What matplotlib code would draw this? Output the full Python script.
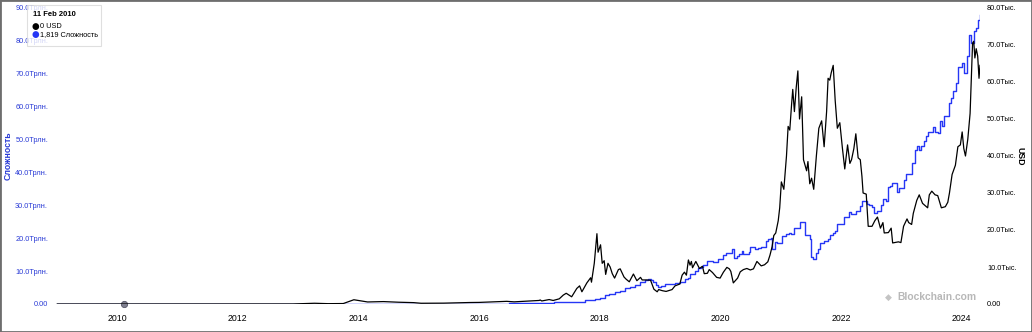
import pandas as pd
import matplotlib
matplotlib.use("Agg")
import matplotlib.pyplot as plt
import matplotlib.dates as mdates
from matplotlib.ticker import FuncFormatter
from matplotlib.patches import Rectangle, FancyBboxPatch

plt.rcParams['font.family'] = ['Liberation Sans', 'DejaVu Sans']

# BTC price, USD
price_dates = [
    "2009-01-03", "2010-07-15", "2011-06-08", "2011-12-01", "2012-06-01", "2012-12-01",
    "2013-04-10", "2013-07-01", "2013-10-01", "2013-12-04", "2014-01-15", "2014-02-25",
    "2014-06-01", "2014-09-01", "2014-12-01", "2015-01-15", "2015-06-01", "2015-11-05",
    "2016-01-01", "2016-06-17", "2016-08-01", "2016-12-31",
    "2017-01-05", "2017-01-15", "2017-03-01", "2017-03-25", "2017-05-01", "2017-05-25",
    "2017-06-12", "2017-07-15", "2017-08-15", "2017-09-01", "2017-09-15", "2017-10-15",
    "2017-11-07", "2017-11-12", "2017-11-29", "2017-12-07", "2017-12-15", "2017-12-22",
    "2018-01-06", "2018-01-16", "2018-01-28", "2018-02-06", "2018-02-20", "2018-03-05",
    "2018-03-18", "2018-04-01", "2018-04-24", "2018-05-05", "2018-05-28", "2018-06-10",
    "2018-06-29", "2018-07-24", "2018-08-14", "2018-09-05", "2018-09-15", "2018-10-15",
    "2018-11-05", "2018-11-25", "2018-12-15", "2018-12-24",
    "2019-01-15", "2019-02-07", "2019-03-15", "2019-04-02", "2019-05-01", "2019-05-15",
    "2019-05-29", "2019-06-10", "2019-06-22", "2019-07-02", "2019-07-10", "2019-07-17",
    "2019-08-06", "2019-08-28", "2019-09-15", "2019-09-26", "2019-10-15", "2019-10-26",
    "2019-11-15", "2019-12-10", "2019-12-31",
    "2020-01-20", "2020-02-10", "2020-02-25", "2020-03-05", "2020-03-20", "2020-04-15",
    "2020-05-01", "2020-05-20", "2020-06-10", "2020-07-01", "2020-07-20", "2020-08-10",
    "2020-09-05", "2020-09-25", "2020-10-15", "2020-10-28", "2020-11-10", "2020-11-20",
    "2020-12-02", "2020-12-17", "2020-12-26",
    "2021-01-05", "2021-01-20", "2021-02-05", "2021-02-15", "2021-02-25", "2021-03-08",
    "2021-03-15", "2021-03-25", "2021-04-05", "2021-04-15", "2021-04-25", "2021-05-08",
    "2021-05-19", "2021-06-07", "2021-06-15", "2021-06-26", "2021-07-07", "2021-07-20",
    "2021-08-05", "2021-08-20", "2021-09-06", "2021-09-21", "2021-10-06", "2021-10-15",
    "2021-10-25", "2021-11-03", "2021-11-15", "2021-11-27", "2021-12-10", "2021-12-25",
    "2022-01-10", "2022-01-24", "2022-02-10", "2022-02-24", "2022-03-06", "2022-03-20",
    "2022-04-01", "2022-04-15", "2022-04-28", "2022-05-08", "2022-05-15", "2022-06-03",
    "2022-06-15", "2022-07-08", "2022-07-25", "2022-08-10", "2022-08-28", "2022-09-12",
    "2022-09-20", "2022-10-15", "2022-11-01", "2022-11-10", "2022-12-15", "2022-12-30",
    "2023-01-15", "2023-02-05", "2023-02-15", "2023-03-05", "2023-03-15", "2023-04-05",
    "2023-04-20", "2023-05-10", "2023-06-10", "2023-06-20", "2023-07-05", "2023-07-25",
    "2023-08-10", "2023-09-01", "2023-09-25", "2023-10-10", "2023-10-20", "2023-11-05",
    "2023-11-25", "2023-12-10", "2023-12-25",
    "2024-01-05", "2024-01-15", "2024-01-25", "2024-02-08", "2024-02-22", "2024-03-01",
    "2024-03-08", "2024-03-15", "2024-03-22", "2024-03-30", "2024-04-08", "2024-04-16",
    "2024-04-22",
]
price_usd = [
    0, 0.05, 30, 3, 6, 13,
    200, 90, 125, 1150, 850, 550,
    650, 480, 370, 200, 230, 400,
    430, 720, 580, 960,
    1100, 820, 1200, 950, 1400, 2400,
    2900, 1950, 4200, 4900, 3300, 5700,
    7100, 5900, 11000, 15000, 19000, 14000,
    16000, 11000, 11700, 8000, 11000, 10000,
    8200, 7000, 9300, 9500, 7300, 6700,
    6000, 8100, 6300, 7200, 6500, 6500,
    6400, 4000, 3300, 3900,
    3600, 3400, 3900, 4900, 5400, 7800,
    8600, 7800, 11900, 10500, 11500, 9800,
    11500, 9600, 10200, 8200, 8300, 9300,
    8500, 7200, 7000,
    8600, 9900, 9500, 8800, 5700, 7000,
    8700, 9300, 9600, 9200, 9500, 11500,
    10300, 10600, 11400, 13200, 15500, 18500,
    19200, 22500, 26000,
    33000, 31000, 40000, 48000, 47000, 54000,
    58000, 52000, 58500, 63000, 50000, 56000,
    39000, 36000, 38500, 32500, 34000, 31000,
    40000, 47500, 49500, 42500, 52000, 61000,
    60500, 62500, 64500, 55000, 47500, 49000,
    42000, 36500, 43000, 38000, 39000, 42000,
    46000, 39500, 39000, 34500, 30000, 29700,
    21000, 21000, 22500, 23500, 20500, 22000,
    19200, 19300, 20500, 16500, 16800, 16600,
    21000, 23000, 22000, 21500, 24500, 28000,
    29500, 27200, 26000, 29500, 30500, 29500,
    29300, 26000, 26300, 27500, 30000, 35000,
    37500, 42500, 43000,
    46500, 42000, 40000, 44500, 51500, 62000,
    70500, 71000, 66500, 69000, 67000, 61000,
    64500,
]

# network difficulty, trillions
diff_dates = [
    "2009-01-03", "2014-01-01", "2015-01-01", "2016-01-01", "2016-07-01",
    "2017-01-01", "2017-04-01", "2017-07-01", "2017-10-01", "2017-12-01",
    "2018-01-01", "2018-02-01", "2018-03-01", "2018-04-01", "2018-05-01", "2018-06-01",
    "2018-07-01", "2018-08-01", "2018-09-01", "2018-10-01", "2018-10-20", "2018-11-05",
    "2018-11-20", "2018-12-05", "2018-12-20",
    "2019-01-05", "2019-02-01", "2019-03-01", "2019-04-01", "2019-05-01", "2019-06-01",
    "2019-06-20", "2019-07-01", "2019-08-01", "2019-08-20", "2019-09-05", "2019-09-20",
    "2019-10-10", "2019-10-25", "2019-11-10", "2019-11-20", "2019-12-05", "2019-12-20",
    "2020-01-05", "2020-01-20", "2020-02-05", "2020-02-20", "2020-03-10", "2020-03-26",
    "2020-04-10", "2020-04-25", "2020-05-10", "2020-05-20", "2020-06-05", "2020-06-20",
    "2020-07-01", "2020-07-15", "2020-08-01", "2020-08-15", "2020-09-01", "2020-09-15",
    "2020-10-01", "2020-10-15", "2020-11-01", "2020-11-10", "2020-11-25", "2020-12-10",
    "2020-12-25",
    "2021-01-10", "2021-01-25", "2021-02-05", "2021-02-20", "2021-03-05", "2021-03-20",
    "2021-04-05", "2021-04-29", "2021-05-13", "2021-05-28", "2021-06-12", "2021-06-26",
    "2021-07-03", "2021-07-17", "2021-07-31", "2021-08-13", "2021-08-26", "2021-09-09",
    "2021-09-21", "2021-10-03", "2021-10-16", "2021-10-28", "2021-11-13", "2021-11-25",
    "2021-12-10", "2021-12-23",
    "2022-01-06", "2022-01-21", "2022-02-03", "2022-02-18", "2022-03-03", "2022-03-17",
    "2022-03-31", "2022-04-14", "2022-04-29", "2022-05-10", "2022-05-24", "2022-06-08",
    "2022-06-22", "2022-07-07", "2022-07-21", "2022-08-05", "2022-08-18", "2022-09-01",
    "2022-09-13", "2022-09-28", "2022-10-10", "2022-10-24", "2022-11-07", "2022-11-20",
    "2022-12-06", "2022-12-20",
    "2023-01-02", "2023-01-15", "2023-01-28", "2023-02-10", "2023-02-25", "2023-03-10",
    "2023-03-24", "2023-04-06", "2023-04-20", "2023-05-03", "2023-05-17", "2023-05-31",
    "2023-06-14", "2023-06-28", "2023-07-12", "2023-07-26", "2023-08-09", "2023-08-22",
    "2023-09-05", "2023-09-19", "2023-10-03", "2023-10-16", "2023-10-30", "2023-11-12",
    "2023-11-26", "2023-12-08", "2023-12-21",
    "2024-01-04", "2024-01-17", "2024-02-01", "2024-02-15", "2024-02-29", "2024-03-14",
    "2024-03-28", "2024-04-10", "2024-04-22",
]
difficulty_t = [
    0, 0.0014, 0.04, 0.1, 0.2,
    0.32, 0.5, 0.71, 1.12, 1.6,
    1.93, 2.6, 3.0, 3.5, 4.1, 4.9,
    5.1, 5.9, 6.7, 7.2, 7.45, 7.18,
    6.65, 5.65, 5.1,
    5.6, 5.95, 6.07, 6.35, 6.7, 7.45,
    7.9, 9.0, 9.99, 10.8, 11.3, 12.0,
    13.0, 12.97, 13.0, 12.7, 12.9, 13.8,
    13.8, 14.8, 15.5, 15.6, 16.6, 13.9,
    14.7, 15.1, 16.1, 15.1, 15.14, 15.8,
    17.3, 17.2, 16.8, 16.9, 17.3, 17.3,
    19.3, 19.9, 19.99, 16.8, 18.7, 18.6,
    18.6,
    20.6, 20.8, 21.4, 21.7, 21.4, 23.1,
    23.1, 25.0, 25.0, 21.0, 21.0, 19.9,
    14.4, 13.7, 15.6, 16.8, 18.4, 18.4,
    19.3, 19.3, 19.8, 21.0, 21.6, 22.3,
    24.3, 24.27,
    24.27, 26.6, 26.6, 27.9, 27.5, 27.5,
    28.2, 28.2, 29.8, 31.3, 31.2, 30.3,
    30.2, 29.6, 27.7, 28.2, 28.4, 30.0,
    32.0, 31.4, 35.6, 36.0, 36.8, 36.8,
    34.2, 35.4,
    35.4, 37.6, 39.4, 39.4, 39.4, 43.0,
    46.8, 47.9, 46.8, 47.9, 49.5, 51.2,
    52.4, 52.4, 53.9, 52.4, 52.1, 55.6,
    54.2, 57.1, 57.3, 61.0, 62.5, 64.7,
    67.3, 72.0, 72.0,
    73.2, 70.3, 75.5, 81.7, 79.5, 83.1,
    83.9, 86.4, 88.0,
]

x_ticks = [str(y) for y in range(2010, 2025, 2)]
left_ticks = [0, 10, 20, 30, 40, 50, 60, 70, 80, 90]   # trillions
right_ticks = [0, 10, 20, 30, 40, 50, 60, 70, 80]       # thousands

blue = "#2536f5"
label_blue = "#2a3bd6"

pd_price = pd.to_datetime(price_dates)
pd_diff = pd.to_datetime(diff_dates)

fig = plt.figure(figsize=(10.32, 3.32), dpi=100)
ax = fig.add_axes([55 / 1032, 28 / 332, 925 / 1032, 296 / 332])
ax2 = ax.twinx()

ax.step(pd_diff, difficulty_t, where="post", color=blue, lw=1.0)
ax2.plot(pd_price, [p / 1000 for p in price_usd], color="black", lw=0.9)

# hover marker
ax.plot(pd.to_datetime(["2010-02-11"]), [0], "o", ms=4.5, color="#7f7f8f",
        mec="#555566", mew=0.6, zorder=5, clip_on=False)

ax.set_xlim(pd.Timestamp("2008-12-20"), pd.Timestamp("2024-04-22"))
ax.set_ylim(0, 90)
ax2.set_ylim(0, 80)

ax.set_xticks(pd.to_datetime([t + "-01-01" for t in x_ticks]))
ax.xaxis.set_major_formatter(mdates.DateFormatter("%Y"))
ax.set_yticks(left_ticks)
ax.yaxis.set_major_formatter(FuncFormatter(lambda v, p: "0.00" if v == 0 else f"{v:.1f}Трлн."))
ax2.set_yticks(right_ticks)
ax2.yaxis.set_major_formatter(FuncFormatter(lambda v, p: "0.00" if v == 0 else f"{v:.1f}Тыс."))

ax.tick_params(axis="x", length=0, pad=7.5, labelsize=6.3, labelcolor="black")
ax.tick_params(axis="y", length=0, pad=5, labelsize=5.3, labelcolor=label_blue)
ax2.tick_params(axis="y", length=0, pad=5, labelsize=5.3, labelcolor="black")

for a in (ax, ax2):
    for s in a.spines.values():
        s.set_visible(False)

fig.text(8 / 1032, 1 - 156 / 332, "Сложность", rotation=90, color=label_blue,
         fontsize=6.3, fontweight="bold", ha="center", va="center")
fig.text(1020 / 1032, 1 - 156 / 332, "USD", rotation=270, color="black",
         fontsize=6.3, fontweight="bold", ha="center", va="center")

# watermark
fig.text(888 / 1032, 1 - 297 / 332, "◆", color="#c4c4c4", fontsize=6.5,
         ha="center", va="center", family="DejaVu Sans")
fig.text(897 / 1032, 1 - 297 / 332, "Blockchain.com", color="#b8b8b8",
         fontsize=7.4, fontweight="bold", ha="left", va="center")

# tooltip
box = FancyBboxPatch((27 / 1032, 1 - 46 / 332), 74 / 1032, 41 / 332,
                     boxstyle="square,pad=0", transform=fig.transFigure,
                     facecolor="white", edgecolor="#d8d8d8", lw=0.8, alpha=0.8,
                     zorder=10)
fig.patches.append(box)
fig.text(33 / 1032, 1 - 15 / 332, "11 Feb 2010", fontsize=5.5, fontweight="bold",
         ha="left", va="center", zorder=11)
fig.text(35 / 1032, 1 - 26 / 332, "●", fontsize=6.3, color="black",
         ha="center", va="center", family="DejaVu Sans", zorder=11)
fig.text(40 / 1032, 1 - 26 / 332, "0 USD", fontsize=5.3, ha="left", va="center", zorder=11)
fig.text(35 / 1032, 1 - 35 / 332, "●", fontsize=6.3, color=blue,
         ha="center", va="center", family="DejaVu Sans", zorder=11)
fig.text(40 / 1032, 1 - 35 / 332, "1,819 Сложность", fontsize=5.3, ha="left",
         va="center", zorder=11)

# outer frame
fig.patches.append(Rectangle((0, 0), 1, 1, transform=fig.transFigure, fill=False,
                             edgecolor="#6e6e6e", lw=2.0, zorder=20))

fig.savefig("out.png", dpi=100)
